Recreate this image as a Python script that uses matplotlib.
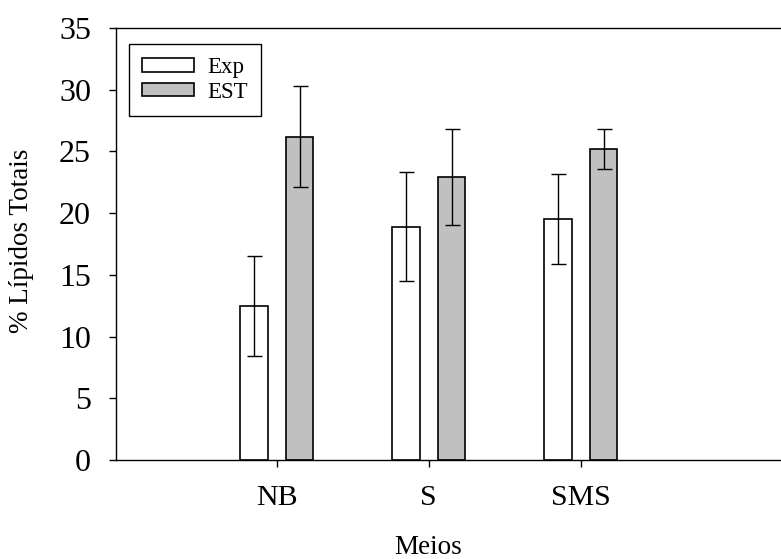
import matplotlib
matplotlib.use("Agg")
import matplotlib.pyplot as plt
import numpy as np

# Total lipid content per culture medium
categories = ["NB", "S", "SMS"]
exp_values = [12.5, 18.9, 19.5]
exp_errors = [4.05, 4.4, 3.65]
est_values = [26.2, 22.9, 25.2]
est_errors = [4.1, 3.9, 1.6]
series_labels = ["Exp", "EST"]
yticks = [0, 5, 10, 15, 20, 25, 30, 35]

plt.rcParams["font.family"] = ["Liberation Serif", "DejaVu Serif"]

W, H = 781, 559
fig = plt.figure(figsize=(W / 100, H / 100), dpi=100)
ax = fig.add_axes([116 / W, (H - 460) / H, 665 / W, 432 / H])

x = np.arange(len(categories))
width = 0.182
offset = 0.151
err_kw = dict(ecolor="black", elinewidth=1.0, capsize=5.4, capthick=1.0)

ax.bar(x - offset, exp_values, width, yerr=exp_errors, color="white",
       edgecolor="black", linewidth=1.2, label=series_labels[0],
       error_kw=err_kw, zorder=2)
ax.bar(x + offset, est_values, width, yerr=est_errors, color="#c0c0c0",
       edgecolor="black", linewidth=1.2, label=series_labels[1],
       error_kw=err_kw, zorder=2)

ax.set_xlim(-1.057, 3.318)
ax.set_ylim(0, 35)
ax.set_xticks(x)
ax.set_xticklabels(categories, fontsize=21.5)
ax.set_yticks(yticks)
ax.set_yticklabels([str(v) for v in yticks], fontsize=23)
ax.tick_params(axis="y", direction="out", length=5, width=1, pad=13)
ax.tick_params(axis="x", direction="out", length=5, width=1, pad=13)

ax.spines["right"].set_visible(False)
for s in ["left", "top", "bottom"]:
    ax.spines[s].set_linewidth(1.0)

ax.set_xlabel("Meios", fontsize=19.5)
ax.xaxis.set_label_coords(0.470, -0.174)
ax.set_ylabel("% Lípidos Totais", fontsize=19.5)
ax.yaxis.set_label_coords(-0.124, 0.508)

leg = ax.legend(loc="upper left", bbox_to_anchor=(0.0195, 0.963),
                fontsize=16.5, handlelength=2.27, handleheight=0.54,
                labelspacing=0.15, borderpad=0.58, handletextpad=0.55,
                borderaxespad=0, fancybox=False, framealpha=1,
                edgecolor="black")
leg.get_frame().set_linewidth(1.0)

fig.savefig("out.png", dpi=100)
